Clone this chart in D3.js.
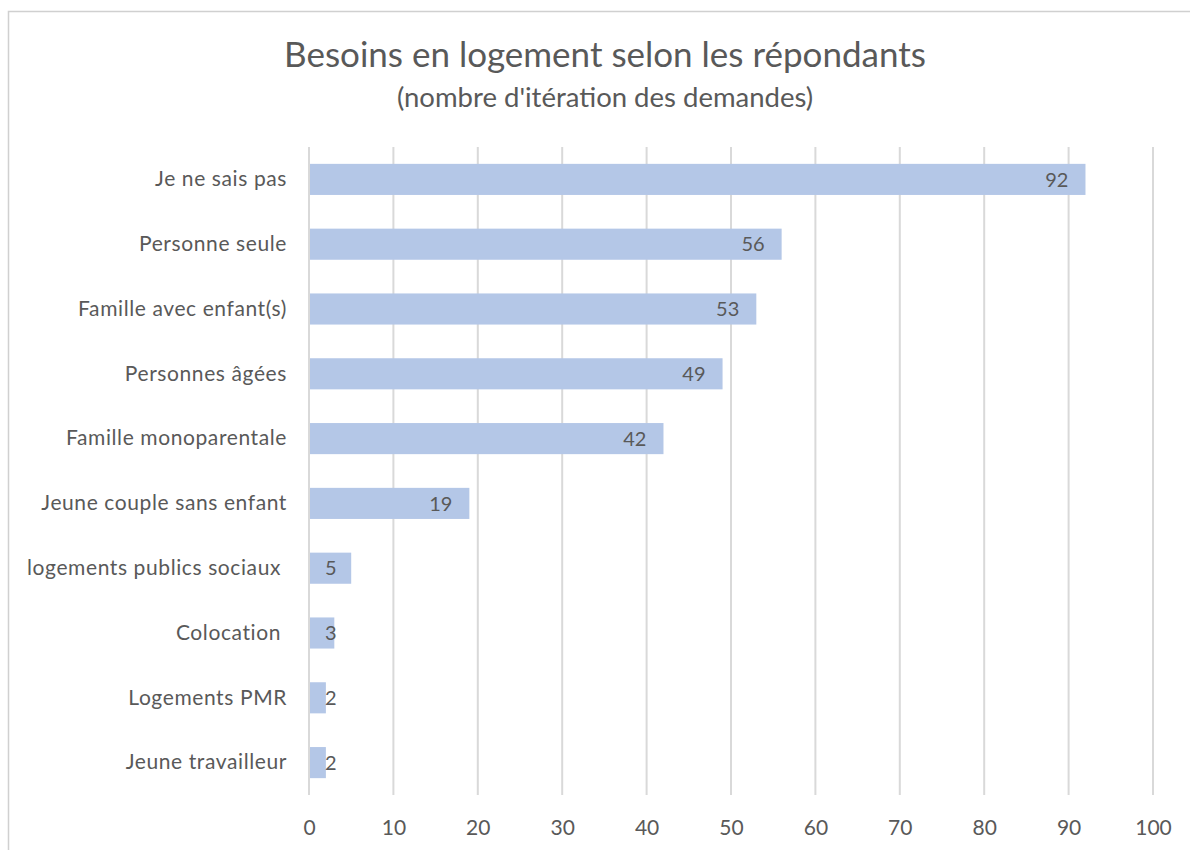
<!DOCTYPE html>
<html>
<head>
<meta charset="utf-8">
<script src="https://cdn.jsdelivr.net/npm/d3@7"></script>
<style>
  body { margin: 0; background: #fff; }
  text { font-family: Lato, "Open Sans", sans-serif; fill: #595959; }
</style>
</head>
<body>
<svg id="chart" width="1190" height="850"></svg>
<script>
// données
var categories = ["Je ne sais pas", "Personne seule", "Famille avec enfant(s)", "Personnes âgées",
  "Famille monoparentale", "Jeune couple sans enfant", "logements publics sociaux ", "Colocation ",
  "Logements PMR", "Jeune travailleur"];
var values = [92, 56, 53, 49, 42, 19, 5, 3, 2, 2];
var xTicks = [0, 10, 20, 30, 40, 50, 60, 70, 80, 90, 100];
var title = "Besoins en logement selon les répondants";
var subtitle = "(nombre d'itération des demandes)";

var svg = d3.select('#chart');
var pLeft = 309, pRight = 1153, pTop = 147, pBottom = 795;

// cadre du graphique
svg.append('rect')
  .attr('x', 8.5).attr('y', 11.5)
  .attr('width', 1200).attr('height', 900)
  .attr('fill', 'none').attr('stroke', '#d0d0d0').attr('stroke-width', 1.5);

svg.append('text').attr('x', 605).attr('y', 67)
  .attr('text-anchor', 'middle').style('font-size', '35px').text(title);
svg.append('text').attr('x', 605).attr('y', 107)
  .attr('text-anchor', 'middle').style('font-size', '27.5px').text(subtitle);

var x = d3.scaleLinear().domain([0, 100]).range([pLeft, pRight]);
var y = d3.scaleBand().domain(categories).range([pTop, pBottom]).paddingInner(0.52).paddingOuter(0.26);

// grille verticale
svg.append('g').selectAll('line').data(xTicks).enter()
  .append('line')
  .attr('x1', function(d){ return x(d); }).attr('x2', function(d){ return x(d); })
  .attr('y1', pTop).attr('y2', pBottom)
  .attr('stroke', '#d9d9d9').attr('stroke-width', 2);

// barres
svg.append('g').selectAll('rect').data(values).enter()
  .append('rect')
  .attr('x', x(0) + 1)
  .attr('y', function(d, i){ return y(categories[i]); })
  .attr('width', function(d){ return x(d) - x(0) - 1; })
  .attr('height', y.bandwidth())
  .attr('fill', '#b4c7e7');

// axe des x
var xAxis = d3.axisBottom(x).tickValues(xTicks).tickSize(0).tickPadding(0);
var gx = svg.append('g').attr('transform', 'translate(0,' + (pBottom + 25) + ')').call(xAxis);
gx.select('.domain').remove();
gx.selectAll('text').style('font-size', '21px').style('font-family', 'Lato, sans-serif').attr('fill', '#595959');

// étiquettes des catégories
var yAxis = d3.axisLeft(y).tickSize(0).tickPadding(0);
var gy = svg.append('g').attr('transform', 'translate(' + (pLeft - 22) + ',0)').call(yAxis);
gy.select('.domain').remove();
gy.selectAll('text').style('font-size', '21px').style('font-family', 'Lato, sans-serif')
  .style('letter-spacing', '0.6px')
  .attr('fill', '#595959').style('white-space', 'pre');

// étiquettes de valeurs
svg.append('g').selectAll('text').data(values).enter()
  .append('text')
  .attr('y', function(d, i){ return y(categories[i]) + y.bandwidth() / 2; })
  .attr('dy', '0.36em')
  .attr('text-anchor', 'end')
  .style('font-size', '20px')
  .text(function(d){ return d; })
  .attr('x', function(d){
    var w = this.getComputedTextLength();
    return Math.max(x(d) - 17, x(0) + 16 + w);
  });
</script>
</body>
</html>
